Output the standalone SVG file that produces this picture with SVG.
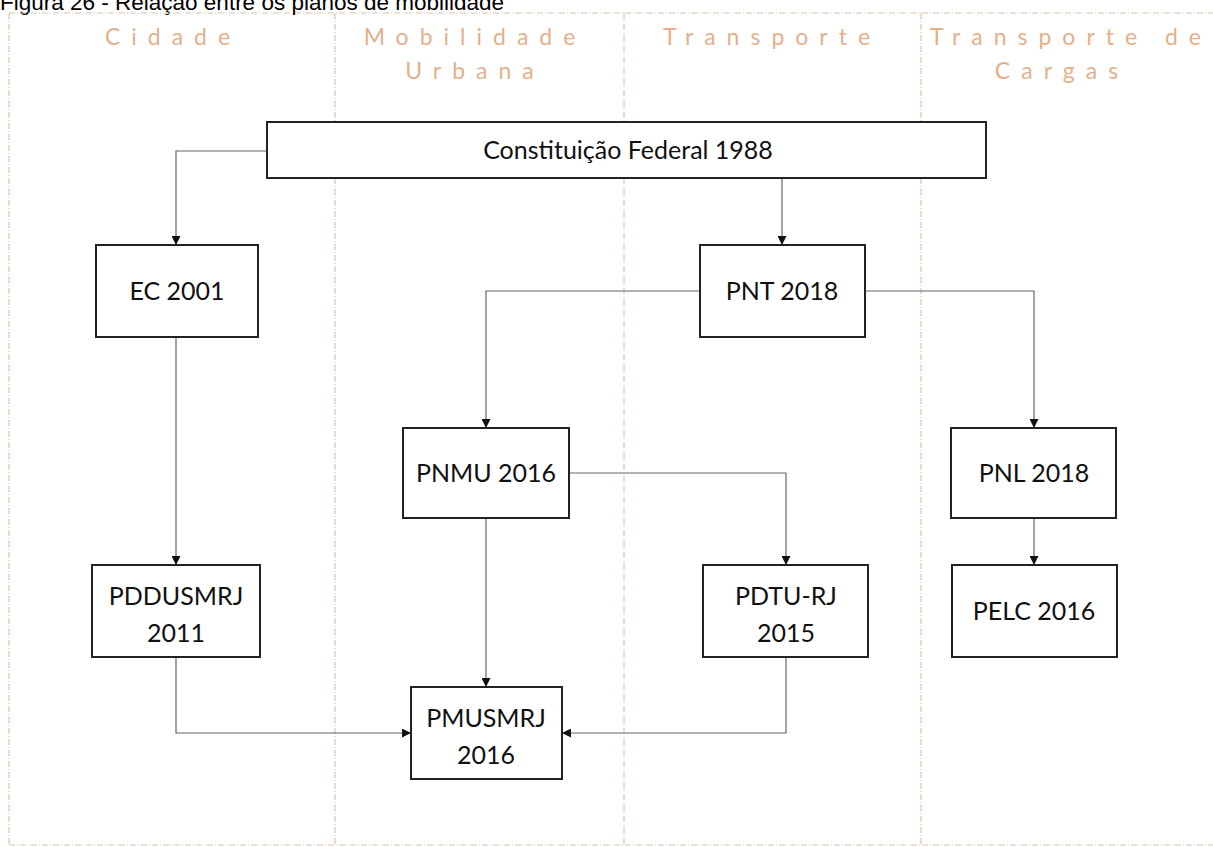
<svg xmlns="http://www.w3.org/2000/svg" width="1213" height="847" viewBox="0 0 1213 847">
  <defs>
    <marker id="arrow" viewBox="0 0 10 10" refX="10" refY="5" markerWidth="9" markerHeight="9" markerUnits="userSpaceOnUse" orient="auto">
      <path d="M0,0 L10,5 L0,10 z" fill="#111"/>
    </marker>
    <style>
      .title { font-family: "Liberation Sans", Arial, sans-serif; font-size: 22.5px; fill: #000; }
      .lane { font-family: Lato, "Open Sans", sans-serif; font-size: 23px; fill: #e2b18c; letter-spacing: 11px; text-anchor: middle; }
      .frame { fill: none; stroke: #dcc4ac; stroke-width: 1.2; stroke-dasharray: 6 2 1 2; }
      .box { fill: #fff; stroke: #222; stroke-width: 2; }
      .label { font-family: Lato, "Open Sans", sans-serif; font-size: 25px; fill: #111; text-anchor: middle; }
      .edge { fill: none; stroke: #666; stroke-width: 1.2; marker-end: url(#arrow); }
    </style>
  </defs>

  <rect width="1213" height="847" fill="#fff"/>

  <text class="title" x="0" y="10">Figura 26 - Relação entre os planos de mobilidade</text>

  <!-- swimlane frame and lane headings -->
  <g id="lanes">
    <path class="frame" d="M9,13 H1213 M9,13 V845 M9,845 H1213 M335,13 V845 M624,13 V845 M921,13 V845"/>
    <text class="lane" x="173" y="45">Cidade</text>
    <text class="lane" x="475" y="45">Mobilidade</text>
    <text class="lane" x="475" y="79">Urbana</text>
    <text class="lane" x="772" y="45">Transporte</text>
    <text class="lane" x="1071" y="45">Transporte de</text>
    <text class="lane" x="1062" y="79">Cargas</text>
  </g>

  <!-- connectors -->
  <g id="connectors">
    <path class="edge" d="M267,151 H176 V245"/>
    <path class="edge" d="M782,178 V245"/>
    <path class="edge" d="M700,291 H486 V428"/>
    <path class="edge" d="M865,291 H1034 V428"/>
    <path class="edge" d="M176,337 V565"/>
    <path class="edge" d="M569,473 H786 V565"/>
    <path class="edge" d="M486,518 V687"/>
    <path class="edge" d="M1034,518 V565"/>
    <path class="edge" d="M176,657 V733 H411"/>
    <path class="edge" d="M786,657 V733 H562"/>
  </g>

  <g id="cf1988">
    <rect class="box" x="267" y="122" width="719" height="56"/>
    <text class="label" x="628" y="159">Constituição Federal 1988</text>
  </g>
  <g id="ec2001">
    <rect class="box" x="96" y="245" width="162" height="92"/>
    <text class="label" x="177" y="300">EC 2001</text>
  </g>
  <g id="pnt2018">
    <rect class="box" x="700" y="245" width="165" height="92"/>
    <text class="label" x="782" y="300">PNT 2018</text>
  </g>
  <g id="pnmu2016">
    <rect class="box" x="403" y="428" width="166" height="90"/>
    <text class="label" x="486" y="482">PNMU 2016</text>
  </g>
  <g id="pnl2018">
    <rect class="box" x="951" y="428" width="165" height="90"/>
    <text class="label" x="1034" y="482">PNL 2018</text>
  </g>
  <g id="pddusmrj2011">
    <rect class="box" x="92" y="565" width="168" height="92"/>
    <text class="label" x="176" y="605">PDDUSMRJ</text>
    <text class="label" x="176" y="642">2011</text>
  </g>
  <g id="pdturj2015">
    <rect class="box" x="703" y="565" width="165" height="92"/>
    <text class="label" x="786" y="605">PDTU-RJ</text>
    <text class="label" x="786" y="642">2015</text>
  </g>
  <g id="pelc2016">
    <rect class="box" x="952" y="565" width="165" height="92"/>
    <text class="label" x="1034" y="620">PELC 2016</text>
  </g>
  <g id="pmusmrj2016">
    <rect class="box" x="411" y="687" width="151" height="92"/>
    <text class="label" x="486" y="727">PMUSMRJ</text>
    <text class="label" x="486" y="764">2016</text>
  </g>
</svg>
